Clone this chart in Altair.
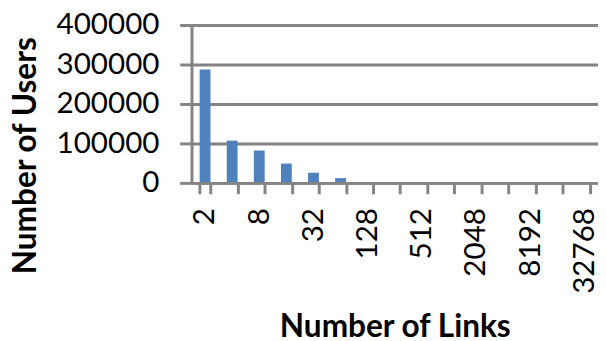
import altair as alt
import pandas as pd

links = ["2", "4", "8", "16", "32", "64", "128", "256", "512", "1024",
         "2048", "4096", "8192", "16384", "32768"]
users = [287000, 107000, 82000, 49000, 26000, 12000, 1200, 500, 200, 80,
         30, 12, 5, 2, 1]
shown_labels = ["2", "8", "32", "128", "512", "2048", "8192", "32768"]
y_ticks = [0, 100000, 200000, 300000, 400000]

df = pd.DataFrame({"links": links, "users": users})

FONT = "Lato"
GRAY = "#848484"
label_expr = "indexof(" + str(shown_labels).replace('"', "'") + ", datum.label) >= 0 ? datum.label : ''"

chart = alt.Chart(df).mark_bar(color="#4f81bd").encode(
    x=alt.X(
        "links:O",
        sort=None,
        scale=alt.Scale(paddingInner=0.6, paddingOuter=0.3),
        axis=alt.Axis(
            title="Number of Links",
            titleFont=FONT, titleFontSize=32, titleFontWeight="bold", titleColor="black",
            titleX=206, titleY=156, titleBaseline="alphabetic", titleAlign="center",
            labelFont=FONT, labelFontSize=30, labelColor="black",
            labelAngle=270, labelPadding=14, labelOverlap=False,
            labelExpr=label_expr,
            tickBand="extent", tickSize=11, tickWidth=3, tickColor=GRAY,
            domainColor=GRAY, domainWidth=3, grid=False, zindex=1,
        ),
    ),
    y=alt.Y(
        "users:Q",
        scale=alt.Scale(domain=[0, 400000]),
        axis=alt.Axis(
            title="Number of Users",
            titleFont=FONT, titleFontSize=32, titleFontWeight="bold", titleColor="black",
            titleAngle=270, titleX=-168, titleY=132, titleAlign="center", titleBaseline="middle",
            labelFont=FONT, labelFontSize=30, labelColor="black",
            labelPadding=21, values=y_ticks, format="d",
            tickSize=12, tickWidth=3, tickColor=GRAY,
            domainColor=GRAY, domainWidth=3,
            grid=True, gridColor=GRAY, gridWidth=3, zindex=0,
        ),
    ),
).properties(
    width=412, height=160,
    autosize=alt.AutoSizeParams(type="none"),
    padding={"left": 186, "top": 15, "right": 0, "bottom": 158},
).configure_view(stroke=None)

chart.save("out.html", embed_options={"renderer": "svg", "actions": False})
